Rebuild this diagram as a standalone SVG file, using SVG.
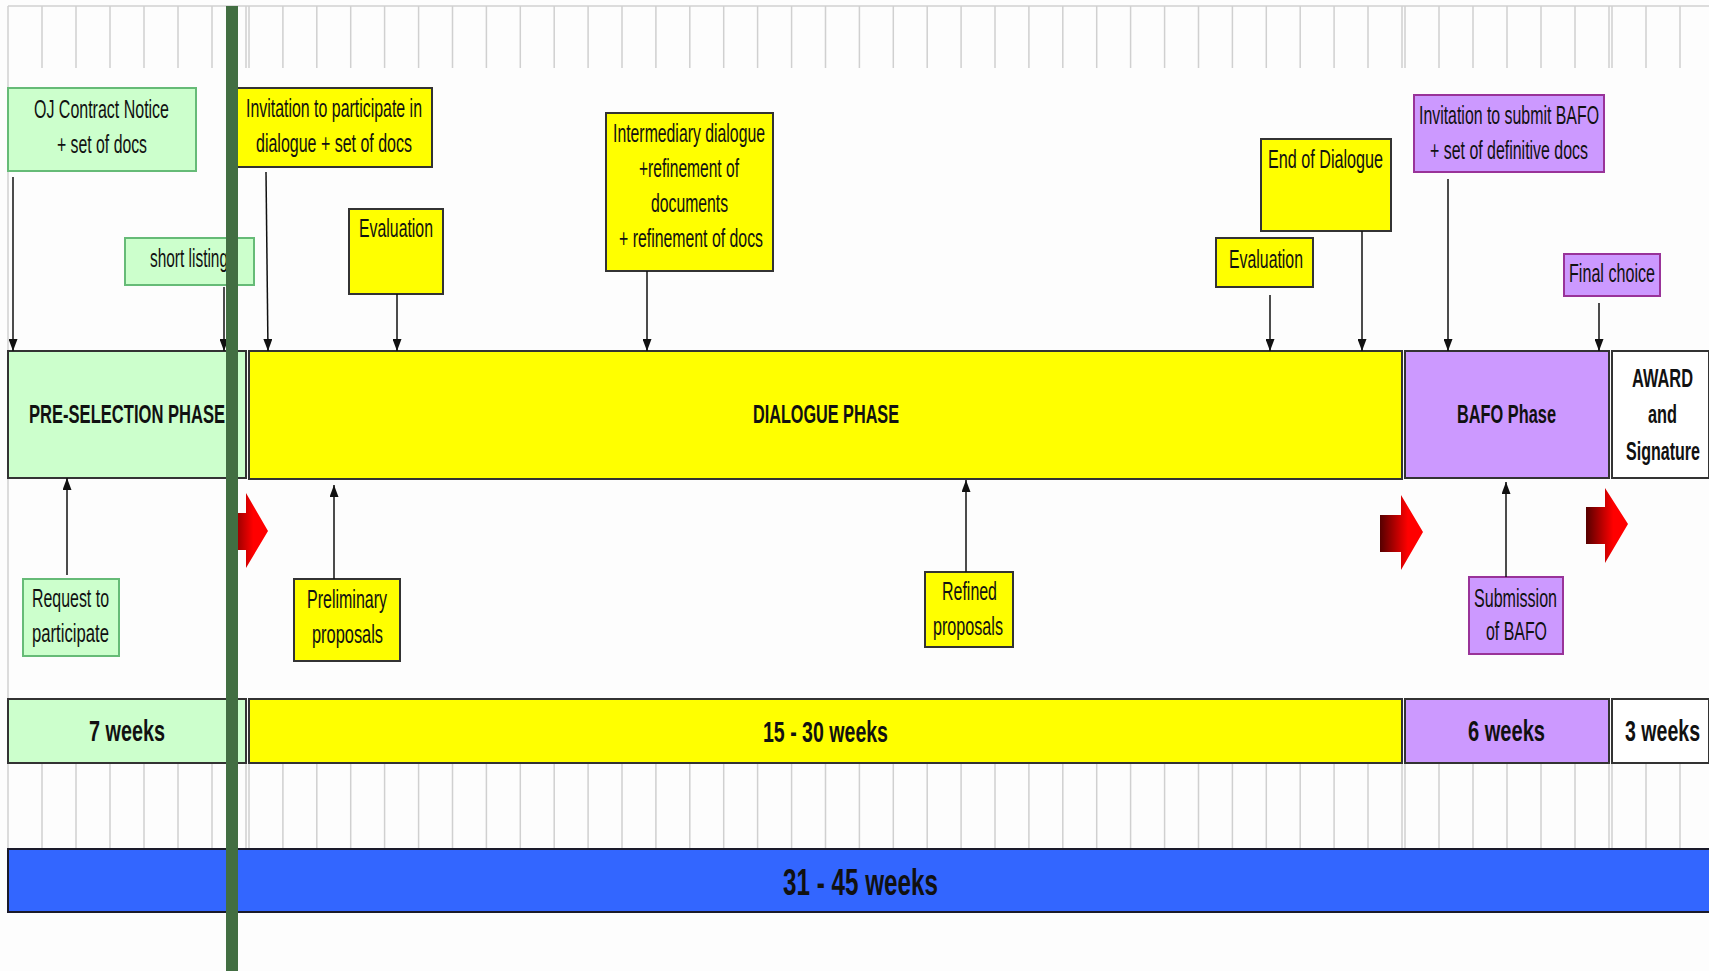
<svg xmlns="http://www.w3.org/2000/svg" width="1709" height="971" viewBox="0 0 1709 971">
<style>
.t{font-family:"Liberation Sans",Arial,sans-serif;font-size:25px;fill:#111}
.b{font-weight:bold}
.big{font-size:29px}
.huge{font-size:37px}
.grid{stroke:#d0d0d0;stroke-width:1.5;fill:none}
.gbox{fill:#ccffcc;stroke:#66bb77;stroke-width:2}
.ybox{fill:#ffff00;stroke:#333;stroke-width:2}
.pbox{fill:#cc99ff;stroke:#993399;stroke-width:2}
.phase{stroke:#333;stroke-width:2}
.conn{stroke:#111;stroke-width:1.5;fill:none;marker-end:url(#ah)}
</style>
<defs>
<marker id="ah" markerUnits="userSpaceOnUse" markerWidth="12" markerHeight="9" refX="12" refY="4.5" orient="auto">
<path d="M0,0 L12,4.5 L0,9 z" fill="#111"/>
</marker>
<linearGradient id="red" x1="0" y1="0" x2="1" y2="0">
<stop offset="0" stop-color="#550000"/>
<stop offset="0.45" stop-color="#cc0000"/>
<stop offset="0.65" stop-color="#ff0000"/>
<stop offset="1" stop-color="#ff0000"/>
</linearGradient>
</defs>
<rect x="0" y="0" width="1709" height="971" fill="#fdfdfd"/>

<g id="grid">
<path class="grid" d="M8 6H1709"/>
<path class="grid" d="M8 6V913"/>
<path class="grid" d="M42 6V68M76 6V68M110 6V68M144 6V68M178 6V68M212 6V68M246 6V68M249 6V68M282.9 6V68M316.8 6V68M350.7 6V68M384.6 6V68M418.6 6V68M452.5 6V68M486.4 6V68M520.3 6V68M554.2 6V68M588.1 6V68M622 6V68M655.9 6V68M689.8 6V68M723.7 6V68M757.6 6V68M791.6 6V68M825.5 6V68M859.4 6V68M893.3 6V68M927.2 6V68M961.1 6V68M995 6V68M1028.9 6V68M1062.8 6V68M1096.7 6V68M1130.6 6V68M1164.6 6V68M1198.5 6V68M1232.4 6V68M1266.3 6V68M1300.2 6V68M1334.1 6V68M1368 6V68M1402 6V68M1405 6V68M1439 6V68M1473 6V68M1507 6V68M1541 6V68M1575 6V68M1609 6V68M1612 6V68M1646 6V68M1680 6V68"/>
<path class="grid" d="M42 763V849M76 763V849M110 763V849M144 763V849M178 763V849M212 763V849M246 763V849M249 763V849M282.9 763V849M316.8 763V849M350.7 763V849M384.6 763V849M418.6 763V849M452.5 763V849M486.4 763V849M520.3 763V849M554.2 763V849M588.1 763V849M622 763V849M655.9 763V849M689.8 763V849M723.7 763V849M757.6 763V849M791.6 763V849M825.5 763V849M859.4 763V849M893.3 763V849M927.2 763V849M961.1 763V849M995 763V849M1028.9 763V849M1062.8 763V849M1096.7 763V849M1130.6 763V849M1164.6 763V849M1198.5 763V849M1232.4 763V849M1266.3 763V849M1300.2 763V849M1334.1 763V849M1368 763V849M1402 763V849M1405 763V849M1439 763V849M1473 763V849M1507 763V849M1541 763V849M1575 763V849M1609 763V849M1612 763V849M1646 763V849M1680 763V849"/>
</g>

<g id="pre-selection-phase">
<rect x="8" y="351" width="238" height="127" fill="#ccffcc" class="phase"/>
<text class="t b" x="29" y="423" textLength="196" lengthAdjust="spacingAndGlyphs">PRE-SELECTION PHASE</text>
</g>
<g id="dialogue-phase">
<rect x="249" y="351" width="1153" height="128" fill="#ffff00" class="phase"/>
<text class="t b" x="753" y="423" textLength="146" lengthAdjust="spacingAndGlyphs">DIALOGUE PHASE</text>
</g>
<g id="bafo-phase">
<rect x="1405" y="351" width="204" height="127" fill="#cc99ff" class="phase"/>
<text class="t b" x="1457" y="423" textLength="99" lengthAdjust="spacingAndGlyphs">BAFO Phase</text>
</g>
<g id="award-phase">
<rect x="1612" y="351" width="97" height="127" fill="#ffffff" class="phase"/>
<text class="t b" transform="translate(1632,387) scale(0.64,1)" x="0" y="0" textLength="95.3" lengthAdjust="spacingAndGlyphs">AWARD</text>
<text class="t b" transform="translate(1648,423) scale(0.64,1)" x="0" y="0" textLength="45.3" lengthAdjust="spacingAndGlyphs">and</text>
<text class="t b" transform="translate(1626,460) scale(0.64,1)" x="0" y="0" textLength="115.6" lengthAdjust="spacingAndGlyphs">Signature</text>
</g>

<g id="weeks-7">
<rect x="8" y="699" width="238" height="64" fill="#ccffcc" class="phase"/>
<text class="t b big" x="89" y="741" textLength="76" lengthAdjust="spacingAndGlyphs">7 weeks</text>
</g>
<g id="weeks-15-30">
<rect x="249" y="699" width="1153" height="64" fill="#ffff00" class="phase"/>
<text class="t b big" x="763" y="742" textLength="125" lengthAdjust="spacingAndGlyphs">15 - 30 weeks</text>
</g>
<g id="weeks-6">
<rect x="1405" y="699" width="204" height="64" fill="#cc99ff" class="phase"/>
<text class="t b big" x="1468" y="741" textLength="77" lengthAdjust="spacingAndGlyphs">6 weeks</text>
</g>
<g id="weeks-3">
<rect x="1612" y="699" width="97" height="64" fill="#ffffff" class="phase"/>
<text class="t b big" transform="translate(1625,741) scale(0.68,1)" x="0" y="0" textLength="110.3" lengthAdjust="spacingAndGlyphs">3 weeks</text>
</g>
<g id="total">
<rect x="8" y="849" width="1714" height="63" fill="#3366ff" stroke="#1a1a2a" stroke-width="2"/>
<text class="t b huge" x="783" y="895" textLength="155" lengthAdjust="spacingAndGlyphs">31 - 45 weeks</text>
</g>

<g id="oj-contract-notice">
<rect x="8" y="88" width="188" height="83" class="gbox"/>
<text class="t" x="34" y="118" textLength="135" lengthAdjust="spacingAndGlyphs">OJ Contract Notice</text>
<text class="t" x="57" y="153" textLength="90" lengthAdjust="spacingAndGlyphs">+ set of docs</text>
</g>
<g id="short-listing">
<rect x="125" y="238" width="129" height="47" class="gbox"/>
<text class="t" x="150" y="267" textLength="78" lengthAdjust="spacingAndGlyphs">short listing</text>
</g>
<g id="invitation-dialogue">
<rect x="237" y="88" width="195" height="79" class="ybox"/>
<text class="t" x="246" y="117" textLength="176" lengthAdjust="spacingAndGlyphs">Invitation to participate in</text>
<text class="t" x="256" y="152" textLength="156" lengthAdjust="spacingAndGlyphs">dialogue + set of docs</text>
</g>
<g id="evaluation-1">
<rect x="349" y="209" width="94" height="85" class="ybox"/>
<text class="t" x="359" y="237" textLength="74" lengthAdjust="spacingAndGlyphs">Evaluation</text>
</g>
<g id="intermediary-dialogue">
<rect x="606" y="113" width="167" height="158" class="ybox"/>
<text class="t" x="613" y="142" textLength="152" lengthAdjust="spacingAndGlyphs">Intermediary dialogue</text>
<text class="t" x="639" y="177" textLength="100" lengthAdjust="spacingAndGlyphs">+refinement of</text>
<text class="t" x="651" y="212" textLength="77" lengthAdjust="spacingAndGlyphs">documents</text>
<text class="t" x="619" y="247" textLength="144" lengthAdjust="spacingAndGlyphs">+ refinement of docs</text>
</g>
<g id="evaluation-2">
<rect x="1216" y="238" width="97" height="49" class="ybox"/>
<text class="t" x="1229" y="268" textLength="74" lengthAdjust="spacingAndGlyphs">Evaluation</text>
</g>
<g id="end-of-dialogue">
<rect x="1261" y="139" width="130" height="92" class="ybox"/>
<text class="t" x="1268" y="168" textLength="115" lengthAdjust="spacingAndGlyphs">End of Dialogue</text>
</g>
<g id="invitation-bafo">
<rect x="1414" y="95" width="190" height="77" class="pbox"/>
<text class="t" x="1419" y="124" textLength="180" lengthAdjust="spacingAndGlyphs">Invitation to submit BAFO</text>
<text class="t" x="1430" y="159" textLength="158" lengthAdjust="spacingAndGlyphs">+ set of definitive docs</text>
</g>
<g id="final-choice">
<rect x="1564" y="254" width="96" height="42" class="pbox"/>
<text class="t" x="1569" y="282" textLength="86" lengthAdjust="spacingAndGlyphs">Final choice</text>
</g>
<g id="request-to-participate">
<rect x="23" y="579" width="96" height="77" class="gbox"/>
<text class="t" x="32" y="607" textLength="77" lengthAdjust="spacingAndGlyphs">Request to</text>
<text class="t" x="32" y="642" textLength="77" lengthAdjust="spacingAndGlyphs">participate</text>
</g>
<g id="preliminary-proposals">
<rect x="294" y="579" width="106" height="82" class="ybox"/>
<text class="t" x="307" y="608" textLength="80" lengthAdjust="spacingAndGlyphs">Preliminary</text>
<text class="t" x="312" y="643" textLength="71" lengthAdjust="spacingAndGlyphs">proposals</text>
</g>
<g id="refined-proposals">
<rect x="925" y="572" width="88" height="75" class="ybox"/>
<text class="t" x="942" y="600" textLength="55" lengthAdjust="spacingAndGlyphs">Refined</text>
<text class="t" x="933" y="635" textLength="70" lengthAdjust="spacingAndGlyphs">proposals</text>
</g>
<g id="submission-bafo">
<rect x="1469" y="577" width="94" height="77" class="pbox"/>
<text class="t" x="1474" y="607" textLength="83" lengthAdjust="spacingAndGlyphs">Submission</text>
<text class="t" x="1486" y="640" textLength="61" lengthAdjust="spacingAndGlyphs">of BAFO</text>
</g>

<g id="connectors">
<path class="conn" d="M13 177V351"/>
<path class="conn" d="M224 287V351"/>
<path class="conn" d="M266 172L268 351"/>
<path class="conn" d="M397 294V351"/>
<path class="conn" d="M647 271V351"/>
<path class="conn" d="M1270 295V351"/>
<path class="conn" d="M1362 231V351"/>
<path class="conn" d="M1448 179V351"/>
<path class="conn" d="M1599 303V351"/>
<path class="conn" d="M67 575V478"/>
<path class="conn" d="M334 579V485"/>
<path class="conn" d="M966 572V480"/>
<path class="conn" d="M1506 577V482"/>
</g>

<g id="red-arrows">
<polygon points="226,513 246,513 246,493 268,531 246,568 246,550 226,550" fill="url(#red)"/>
<polygon points="1380,515 1401,515 1401,495 1423,532 1401,570 1401,552 1380,552" fill="url(#red)"/>
<polygon points="1586,507 1605,507 1605,488 1628,524 1605,563 1605,544 1586,544" fill="url(#red)"/>
</g>

<g id="divider">
<rect x="226" y="6" width="12" height="965" fill="#426e42"/>
</g>
</svg>
